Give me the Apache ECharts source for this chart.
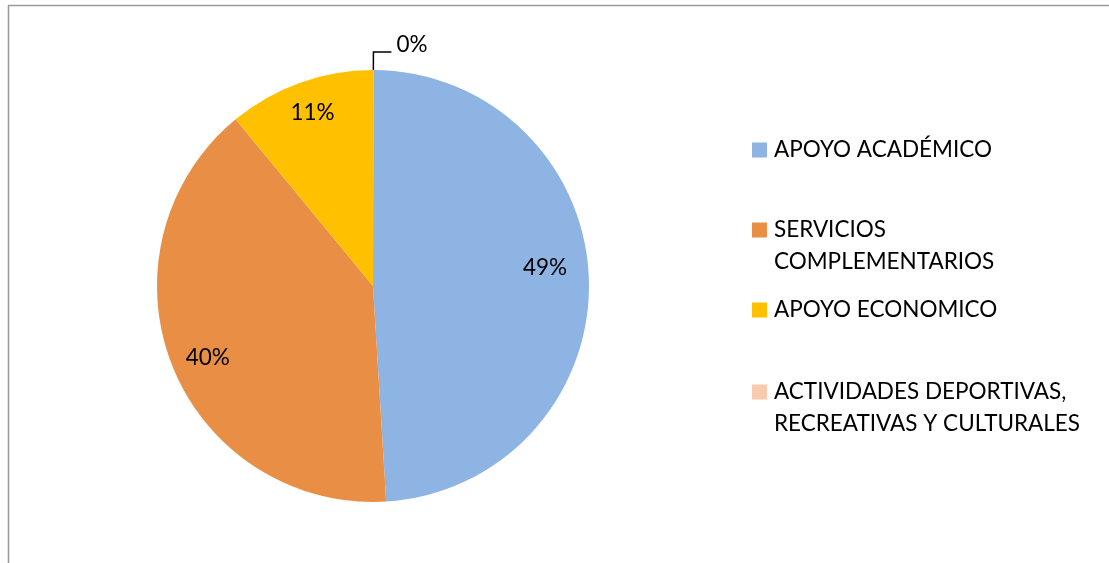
<!DOCTYPE html>
<html>
<head>
<meta charset="utf-8">
<script src="https://cdn.jsdelivr.net/npm/echarts@6/dist/echarts.min.js"></script>
<style>
html,body{margin:0;padding:0;background:#fff;}
#chart{width:1109px;height:563px;}
</style>
</head>
<body>
<div id="chart"></div>
<script>
const categories = ['APOYO ACADÉMICO', 'SERVICIOS COMPLEMENTARIOS', 'APOYO ECONOMICO', 'ACTIVIDADES DEPORTIVAS, RECREATIVAS Y CULTURALES'];
const values = [49, 40, 11, 0];
const colors = ['#8EB4E3', '#E98F45', '#FFC000', '#F8CBAD'];
const legendTexts = ['APOYO ACADÉMICO', '\nSERVICIOS\nCOMPLEMENTARIOS', 'APOYO ECONOMICO', '\nACTIVIDADES DEPORTIVAS,\nRECREATIVAS Y CULTURALES'];

const FONT = 'Lato';
const FS = 22.5;
const labelOffsets = [[61, -15], [-62, 31], [-23, -69], [0, -7]];
const legendTops = [134, 182, 294, 344];
// the zero-value slice sits at the 12 o'clock seam; draw it first so its label goes right
const pieOrder = [3, 0, 1, 2];

const data = pieOrder.map(i => {
  const item = { name: categories[i], value: values[i], itemStyle: { color: colors[i] } };
  if (values[i] > 0) {
    item.label = { position: 'inside', offset: labelOffsets[i] };
    item.labelLine = { show: false };
  } else {
    item.label = { position: 'outside', offset: labelOffsets[i] };
    item.labelLine = { show: true, length: 18, length2: 18, lineStyle: { color: '#000', width: 1.5 } };
  }
  return item;
});

const legends = categories.map((c, i) => ({
  data: [c],
  left: 752,
  top: legendTops[i],
  padding: 0,
  orient: 'vertical',
  itemWidth: 15,
  itemHeight: 15,
  icon: 'rect',
  selectedMode: false,
  formatter: () => legendTexts[i],
  textStyle: { fontFamily: FONT, fontSize: FS, color: '#000', lineHeight: 32, padding: [0, 0, 0, 2] }
}));

const chart = echarts.init(document.getElementById('chart'));
chart.setOption({
  animation: false,
  backgroundColor: '#fff',
  legend: legends,
  graphic: [
    { type: 'line', shape: { x1: 8, y1: 5.5, x2: 1109, y2: 5.5 }, style: { stroke: '#9a9a9a', lineWidth: 1.5 } },
    { type: 'line', shape: { x1: 8.5, y1: 5, x2: 8.5, y2: 563 }, style: { stroke: '#9a9a9a', lineWidth: 1.5 } }
  ],
  series: [{
    type: 'pie',
    center: [373, 286],
    radius: 216,
    startAngle: 89.9,
    clockwise: true,
    avoidLabelOverlap: false,
    data: data,
    itemStyle: { borderWidth: 0 },
    label: {
      fontFamily: FONT,
      fontSize: FS,
      color: '#000',
      formatter: p => Math.round(p.percent) + '%'
    },
    emphasis: { disabled: true }
  }]
});
</script>
</body>
</html>
